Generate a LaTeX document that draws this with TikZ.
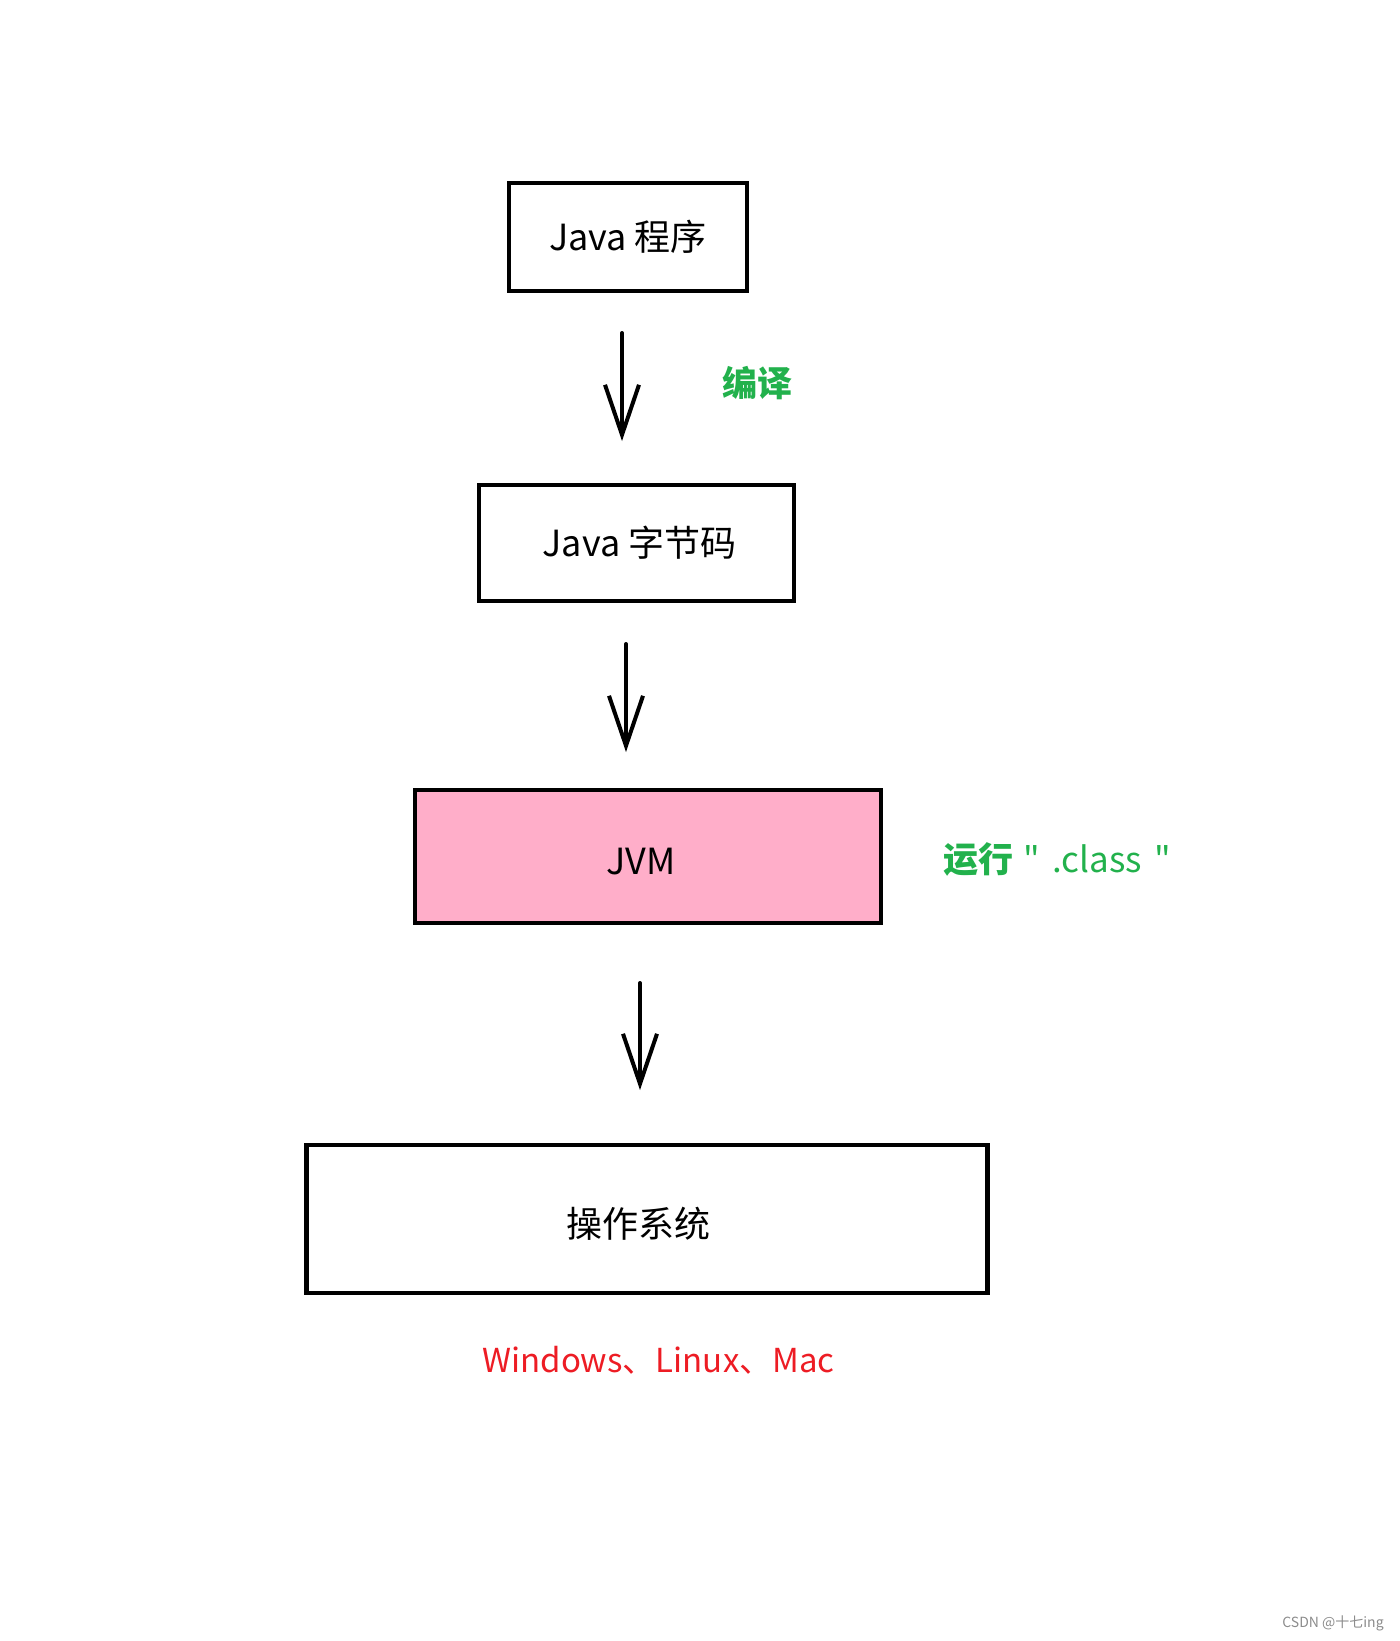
\documentclass[tikz,border=0pt]{standalone}
\usepackage{fontspec}
\usetikzlibrary{arrows.meta}
\newfontfamily\cjk{Noto Sans CJK SC}
\definecolor{paintgreen}{RGB}{34,177,76}
\definecolor{paintred}{RGB}{237,28,36}
\definecolor{paintpink}{RGB}{255,174,201}
\begin{document}
\begin{tikzpicture}[x=1pt, y=-1pt, >={Straight Barb[length=50pt, width=34pt]},
  stage/.style={rectangle, draw, line width=4.5pt, inner sep=0pt, font=\cjk\fontsize{36}{42}\selectfont},
  flow/.style={->, line width=4pt, line cap=round},
  note/.style={inner sep=0pt, font=\cjk\bfseries\fontsize{35}{42}\selectfont, text=paintgreen}]
\useasboundingbox (0,0) rectangle (1400,1641);
\node[stage, minimum width=238pt, minimum height=108pt] (prog) at (628,237) {Java 程序};
\node[stage, minimum width=315pt, minimum height=116pt] (code) at (636.5,543) {\hspace*{6pt}Java 字节码};
\node[stage, fill=paintpink, minimum width=466pt, minimum height=133pt] (jvm) at (648,856.5) {\hspace*{-14pt}\raisebox{-5pt}[\height][\depth]{JVM}};
\node[stage, minimum width=681pt, minimum height=148pt] (os) at (647,1219) {\hspace*{-18pt}\raisebox{-5pt}[\height][\depth]{操作系统}};
\coordinate (c1a) at (622,333);
\coordinate (c1b) at (622,441);
\coordinate (c2a) at (626,644);
\coordinate (c2b) at (626,752);
\coordinate (c3a) at (640,983);
\coordinate (c3b) at (640,1090);
\draw[flow] (c1a) -- (c1b);
\draw[flow] (c2a) -- (c2b);
\draw[flow] (c3a) -- (c3b);
% labels
\node[note] (compile) at (757,383) {编译};
\node[note, anchor=west] (run) at (943,859) {运行\hspace{0.3em}{\mdseries "\hspace{0.35em}.class\hspace{0.35em}"}};
\node[inner sep=0pt, font=\cjk\fontsize{33}{40}\selectfont, text=paintred] (platforms) at (658.5,1360) {Windows、Linux、Mac};
\node[inner sep=0pt, font=\cjk\fontsize{14}{16}\selectfont, text=black!45] (mark) at (1333,1623) {CSDN @十七ing};
\end{tikzpicture}
\end{document}
